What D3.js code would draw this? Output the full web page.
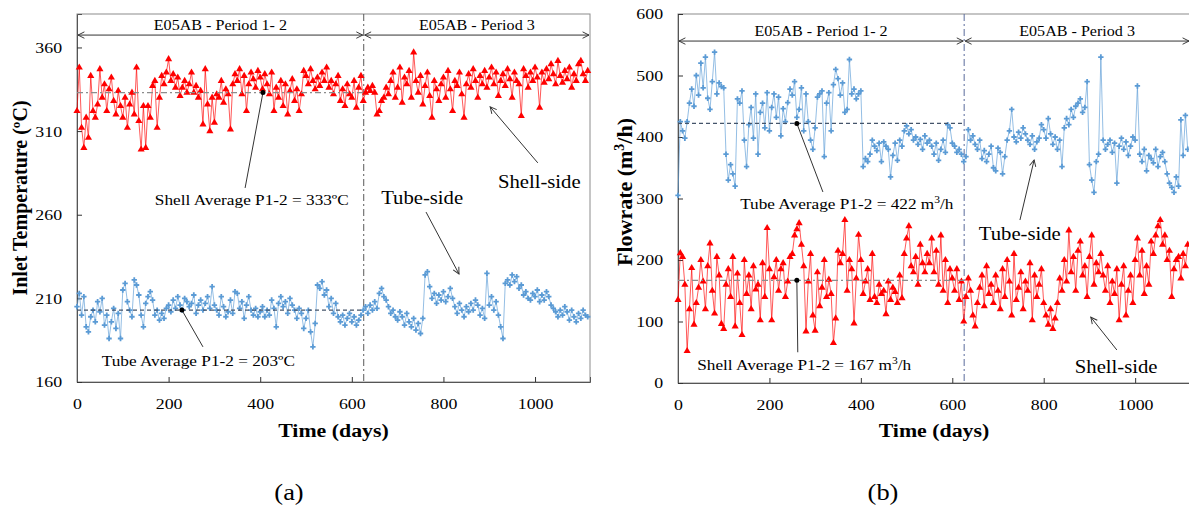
<!DOCTYPE html>
<html>
<head>
<meta charset="utf-8">
<script src="https://cdn.jsdelivr.net/npm/d3@7"></script>
<style>
    body { margin: 0; background: #fff; }
    svg text { font-family: "Liberation Serif", "Times New Roman", serif; fill: #000; }
</style>
</head>
<body>
<div id="chart"></div>
<script>

// sampling step of the series (days)
const STEP = 5;

const tempTicks = [160, 210, 260, 310, 360];
const flowTicks = [0, 100, 200, 300, 400, 500, 600];
const dayTicks = [0, 200, 400, 600, 800, 1000];
const periodLabels = ["E05AB - Period 1- 2", "E05AB - Period 3"];
const periodSplit = 626;

// (a) inlet temperature, shell-side (ºC)
const shellTemp = [
    322, 348, 312, 300, 318, 306, 343, 322, 318, 326,
    347, 330, 338, 322, 335, 342, 328, 320, 334, 325,
    318, 330, 312, 326, 333, 320, 348, 316, 299, 325,
    300, 325, 318, 337, 340, 312, 330, 343, 338, 345,
    353, 340, 344, 336, 342, 331, 336, 340, 333, 338,
    345, 333, 337, 330, 334, 314, 347, 326, 310, 330,
    315, 332, 330, 340, 327, 335, 332, 311, 338, 344,
    340, 347, 332, 343, 322, 338, 345, 341, 336, 346,
    342, 335, 344, 338, 332, 345, 322, 336, 330, 340,
    325, 338, 320, 334, 341, 328, 335, 322, 332, 346,
    343, 338, 347, 340, 335, 342, 337, 345, 340, 348,
    336, 340, 332, 338, 343, 328, 335, 325, 338, 332,
    330, 340, 324, 336, 343, 328, 333, 336, 334, 337,
    333, 320, 322, 328, 330, 336, 332, 340, 345, 330,
    336, 348, 327, 342, 338, 346, 330, 357, 340, 333,
    343, 326, 337, 345, 331, 318, 340, 335, 328, 338,
    342, 330, 346, 335, 322, 340, 337, 345, 332, 318,
    338, 344, 336, 347, 340, 330, 343, 338, 346, 336,
    342, 348, 338, 345, 331, 340, 344, 337, 347, 341,
    330, 345, 340, 338, 319, 347, 343, 336, 345, 340,
    348, 342, 324, 345, 339, 347, 341, 350, 344, 338,
    352, 343, 339, 346, 341, 348, 336, 344, 340, 350,
    352, 344, 340, 346
];

// (a) inlet temperature, tube-side (ºC)
const tubeTemp = [
    205, 213, 200, 211, 193, 190, 199, 203, 196, 208,
    202, 210, 194, 200, 186, 196, 204, 192, 201, 186,
    215, 219, 208, 203, 199, 221, 218, 212, 200, 193,
    207, 211, 214, 209, 200, 203, 197, 201, 198, 204,
    206, 202, 209, 204, 211, 206, 203, 210, 208, 205,
    207, 212, 201, 206, 209, 203, 207, 211, 204, 217,
    206, 203, 200, 211, 205, 199, 202, 209, 201, 214,
    213, 204, 208, 198, 206, 211, 203, 200, 204, 199,
    202, 205, 199, 203, 200, 209, 204, 193, 207, 211,
    205, 208, 201, 210, 206, 203, 198, 204, 201, 192,
    198, 203, 190, 181, 195, 218, 216, 220, 212, 215,
    205, 210, 201, 207, 199, 196, 200, 194, 198, 201,
    196, 199, 194, 197, 200, 203, 205, 201, 206, 203,
    208, 204, 213, 216, 211, 209, 205, 201, 203, 199,
    197, 202, 199, 194, 201, 196, 193, 198, 191, 195,
    189, 198, 224, 226, 217, 210, 213, 207, 212, 209,
    214, 208, 211, 216, 210, 205, 201, 207, 203, 199,
    205, 202, 207, 203, 209, 206, 200, 204, 198, 225,
    206, 211, 203, 208, 200, 193, 186, 219, 221, 218,
    224, 220, 223, 216, 218, 212, 214, 210, 209, 213,
    211, 215, 208, 212, 209, 214, 211, 206, 204, 202,
    199, 203, 200, 205, 202, 197, 203, 199, 196, 201,
    198, 203, 200, 199
];

// (b) flowrate, tube-side (m3/h)
const tubeFlow = [
    305, 425, 410, 398, 425, 455, 478, 450, 500, 468,
    520, 480, 530, 463, 445, 490, 538, 470, 488, 482,
    480, 372, 330, 355, 340, 320, 462, 455, 475, 395,
    352, 420, 448, 398, 470, 372, 440, 455, 415, 472,
    410, 448, 470, 432, 465, 402, 446, 425, 456, 478,
    468, 490, 432, 445, 480, 410, 470, 425, 395, 380,
    415, 465, 470, 475, 368, 455, 472, 410, 485, 510,
    495, 468, 488, 440, 445, 526, 470, 478, 462, 470,
    475, 352, 365, 360, 372, 395, 385, 378, 390, 360,
    392, 385, 380, 335, 370, 390, 362, 395, 385, 410,
    418, 405, 412, 395, 400, 388, 396, 380, 402, 390,
    395, 385, 372, 390, 362, 380, 395, 375, 420, 415,
    390, 385, 375, 380, 372, 360, 368, 412, 395, 402,
    388, 380, 395, 365, 378, 360, 372, 385, 350, 345,
    382, 375, 340, 368, 395, 410, 445, 400, 392, 408,
    398, 415, 405, 395, 388, 402, 380, 392, 398, 420,
    412, 398, 430, 405, 388, 400, 380, 395, 352, 415,
    430, 420, 445, 432, 450, 455, 462, 440, 448, 490,
    355, 330, 310, 360, 372, 530, 395, 380, 388, 395,
    375, 390, 325, 385, 398, 380, 392, 370, 385, 400,
    395, 483, 372, 360, 380, 345, 370, 365, 358, 380,
    352, 368, 375, 360, 340, 325, 318, 310, 335, 320,
    428, 370, 435, 380
];

// (b) flowrate, shell-side (m3/h)
const shellFlow = [
    135, 211, 205, 160, 52, 120, 187, 95, 130, 155,
    200, 165, 120, 190, 227, 150, 113, 205, 175, 96,
    88, 160, 185, 140, 205, 92, 178, 130, 78, 200,
    145, 175, 120, 190, 152, 160, 102, 195, 140, 252,
    185, 102, 172, 200, 150, 185, 195, 140, 165, 205,
    210, 240, 250, 260, 225, 190, 84, 165, 210, 110,
    85, 180, 125, 155, 200, 140, 168, 145, 65, 105,
    215, 195, 210, 265, 150, 200, 185, 97, 170, 241,
    200, 145, 165, 185, 135, 210, 140, 130, 160, 145,
    150, 112, 165, 135, 155, 148, 130, 175, 138, 210,
    235, 255, 190, 180, 205, 160, 225, 195, 180, 210,
    195, 235, 180, 215, 160, 240, 150, 200, 130, 185,
    170, 150, 185, 135, 165, 100, 140, 170, 150, 110,
    92, 130, 155, 175, 125, 190, 145, 160, 130, 175,
    150, 120, 185, 140, 200, 165, 110, 210, 135, 155,
    180, 120, 165, 150, 195, 102, 175, 140, 160, 185,
    130, 110, 95, 120, 88, 105, 130, 170, 150, 200,
    165, 248, 180, 205, 150, 215, 230, 175, 190, 140,
    205, 240, 160, 195, 180, 210, 175, 150, 190, 130,
    165, 145, 185, 102, 160, 190, 110, 150, 175, 130,
    200, 235, 175, 215, 145, 190, 160, 230, 210, 240,
    255, 265, 225, 240, 200, 215, 140, 185, 200, 205,
    170, 210, 190, 225
];

const RED = "#ff0000";
const BLUE = "#5b9bd5";
const SX = 1.15;   // the original figure is stretched horizontally

const svg = d3.select("#chart").append("svg")
    .attr("width", 1189)
    .attr("height", 508);

// open arrowhead
svg.append("defs").append("marker")
    .attr("id", "arrow")
    .attr("viewBox", "0 0 10 10")
    .attr("refX", 9).attr("refY", 5)
    .attr("markerWidth", 8).attr("markerHeight", 8)
    .attr("orient", "auto-start-reverse")
    .append("path")
    .attr("d", "M1,1 L9,5 L1,9")
    .attr("fill", "none")
    .attr("stroke", "#333")
    .attr("stroke-width", 1.2);

// horizontal text, stretched like the source image
function label(g, x, y, size, anchor) {
    return g.append("text")
        .attr("transform", "translate(" + x + "," + y + ") scale(" + SX + ",1)")
        .attr("text-anchor", anchor || "start")
        .style("font-size", size + "px");
}


class Panel {

    constructor(cfg) {
        this.cfg = cfg;
        this.initVis();
    }

    initVis() {
        let vis = this;
        let c = vis.cfg;

        vis.g = svg.append("g");

        vis.x = d3.scaleLinear().domain([0, 1120]).range([c.left, c.right]);
        vis.y = d3.scaleLinear().domain(c.yDomain).range([c.bottom, c.top]);

        // frame
        vis.g.append("rect")
            .attr("x", c.left).attr("y", c.top)
            .attr("width", c.right - c.left).attr("height", c.bottom - c.top)
            .attr("fill", "none")
            .attr("stroke", "#8c8c8c");

        // axes with inward ticks
        let xAxis = vis.g.append("g")
            .attr("transform", "translate(0," + c.bottom + ")")
            .call(d3.axisBottom(vis.x).tickValues(dayTicks).tickFormat(d3.format("d"))
                .tickSize(-5).tickPadding(16));
        let yAxis = vis.g.append("g")
            .attr("transform", "translate(" + c.left + ",0)")
            .call(d3.axisLeft(vis.y).tickValues(c.yTicks).tickSize(-5).tickPadding(13));

        [xAxis, yAxis].forEach(a => {
            a.attr("font-family", null).attr("font-size", null);
            a.select(".domain").attr("stroke", "#555");
            a.selectAll(".tick line").attr("stroke", "#333");
            a.selectAll("text")
                .style("font-size", "15.5px")
                .attr("transform", "scale(" + SX + ",1)")
                .attr("fill", "#000");
        });

        // axis titles
        label(vis.g, (c.left + c.right) / 2, 437, 19, "middle")
            .style("font-weight", "bold")
            .text("Time (days)");

        let yt = vis.g.append("text")
            .attr("transform", "translate(" + c.titleX + "," + c.titleY + ") rotate(-90)")
            .attr("text-anchor", "middle")
            .style("font-size", c.titleSize + "px")
            .style("font-weight", "bold");
        yt.append("tspan").text(c.titleA);
        if (c.titleSup) {
            yt.append("tspan").attr("dy", -8).style("font-size", "14px").text(c.titleSup);
            yt.append("tspan").attr("dy", 8).text(c.titleB);
        }

        label(vis.g, c.capX, 500, 23, "middle").text(c.caption);

        vis.updateVis();
    }

    updateVis() {
        let vis = this;
        let c = vis.cfg;

        // period divider and period arrows
        vis.g.append("line")
            .attr("x1", vis.x(periodSplit)).attr("x2", vis.x(periodSplit))
            .attr("y1", c.top).attr("y2", c.bottom)
            .attr("stroke", c.splitColor)
            .attr("stroke-dasharray", "7,3,2,3");

        let spans = [[0, periodSplit], [periodSplit, 1120]];
        spans.forEach((s, i) => {
            vis.g.append("line")
                .attr("x1", vis.x(s[0]) + 1).attr("x2", vis.x(s[1]) - 1)
                .attr("y1", vis.y(c.arrowY)).attr("y2", vis.y(c.arrowY))
                .attr("stroke", "#333")
                .attr("marker-start", "url(#arrow)")
                .attr("marker-end", "url(#arrow)");
            label(vis.g, (vis.x(s[0]) + vis.x(s[1])) / 2, vis.y(c.arrowY) - 5, 14, "middle")
                .text(periodLabels[i]);
        });

        // series
        c.series.forEach(s => {
            let pts = s.values.map((v, i) => ({ day: i * STEP, value: v }));

            vis.g.append("path")
                .datum(pts)
                .attr("fill", "none")
                .attr("stroke", s.color)
                .attr("stroke-opacity", 0.65)
                .attr("stroke-width", 1)
                .attr("d", d3.line().x(d => vis.x(d.day)).y(d => vis.y(d.value)));

            let sym = s.shape === "tri"
                ? d3.symbol(d3.symbolTriangle, 22)
                : d3.symbol(d3.symbolCross, 16);

            vis.g.append("g").selectAll("path")
                .data(pts)
                .enter()
                .append("path")
                .attr("transform", d => "translate(" + vis.x(d.day) + "," + vis.y(d.value) + ")")
                .attr("d", sym)
                .attr("fill", s.color);
        });

        // averages for period 1-2
        c.averages.forEach(a => {
            vis.g.append("line")
                .attr("x1", vis.x(0)).attr("x2", vis.x(periodSplit))
                .attr("y1", vis.y(a.value)).attr("y2", vis.y(a.value))
                .attr("stroke", a.color)
                .attr("stroke-width", 1.2)
                .attr("stroke-dasharray", a.dash);

            vis.g.append("line")
                .attr("x1", vis.x(a.from[0])).attr("y1", vis.y(a.from[1]))
                .attr("x2", vis.x(a.day)).attr("y2", vis.y(a.value))
                .attr("stroke", "#333");
            vis.g.append("circle")
                .attr("cx", vis.x(a.day)).attr("cy", vis.y(a.value))
                .attr("r", 2.5)
                .attr("fill", "#000");

            let t = label(vis.g, vis.x(a.text[0]), vis.y(a.text[1]), 15);
            t.append("tspan").text(a.label);
            if (a.sup) {
                t.append("tspan").attr("dy", -6).style("font-size", "10px").text(a.sup);
                t.append("tspan").attr("dy", 6).text(a.tail);
            }
        });

        // side labels with arrows
        c.sides.forEach(s => {
            label(vis.g, vis.x(s.text[0]), vis.y(s.text[1]), 18).text(s.label);
            vis.g.append("line")
                .attr("x1", vis.x(s.from[0])).attr("y1", vis.y(s.from[1]))
                .attr("x2", vis.x(s.to[0])).attr("y2", vis.y(s.to[1]))
                .attr("stroke", "#333")
                .attr("marker-end", "url(#arrow)");
        });
    }
}


new Panel({
    left: 77, right: 590, top: 14, bottom: 382,
    yDomain: [160, 380], yTicks: tempTicks,
    titleX: 27, titleY: 198, titleSize: 20, titleA: "Inlet Temperature (ºC)",
    caption: "(a)", capX: 289,
    arrowY: 367.4,
    splitColor: "#595959",
    series: [
        { values: shellTemp, color: RED, shape: "tri" },
        { values: tubeTemp, color: BLUE, shape: "cross" }
    ],
    averages: [
        { value: 333, day: 406, color: "#8c8c8c", dash: "6,3,2,3",
          from: [367, 276], text: [170, 266], label: "Shell Average P1-2 = 333ºC" },
        { value: 203, day: 229, color: "#44546a", dash: "4,3",
          from: [275, 181], text: [54, 169.6], label: "Tube Average P1-2 = 203ºC" }
    ],
    sides: [
        { label: "Tube-side", text: [664, 266.4], from: [762, 261.6], to: [834, 224.6] },
        { label: "Shell-side", text: [919, 276], from: [1006, 291], to: [902, 324.5] }
    ]
});

new Panel({
    left: 678, right: 1190, top: 14, bottom: 383,
    yDomain: [0, 600], yTicks: flowTicks,
    titleX: 632, titleY: 192, titleSize: 22, titleA: "Flowrate (m", titleSup: "3", titleB: "/h)",
    caption: "(b)", capX: 883,
    arrowY: 556,
    splitColor: "#5a6b9c",
    series: [
        { values: tubeFlow, color: BLUE, shape: "cross" },
        { values: shellFlow, color: RED, shape: "tri" }
    ],
    averages: [
        { value: 422, day: 260, color: "#44546a", dash: "4,3",
          from: [317, 310.6], text: [136, 283], label: "Tube Average P1-2 = 422 m", sup: "3", tail: "/h" },
        { value: 167, day: 260, color: "#8c8c8c", dash: "6,3,2,3",
          from: [262, 50], text: [42, 21], label: "Shell Average P1-2 = 167 m", sup: "3", tail: "/h" }
    ],
    sides: [
        { label: "Tube-side", text: [658, 232.5], from: [748, 265], to: [779, 362.6] },
        { label: "Shell-side", text: [868, 16], from: [960, 53.7], to: [903, 107] }
    ]
});

</script>
</body>
</html>
